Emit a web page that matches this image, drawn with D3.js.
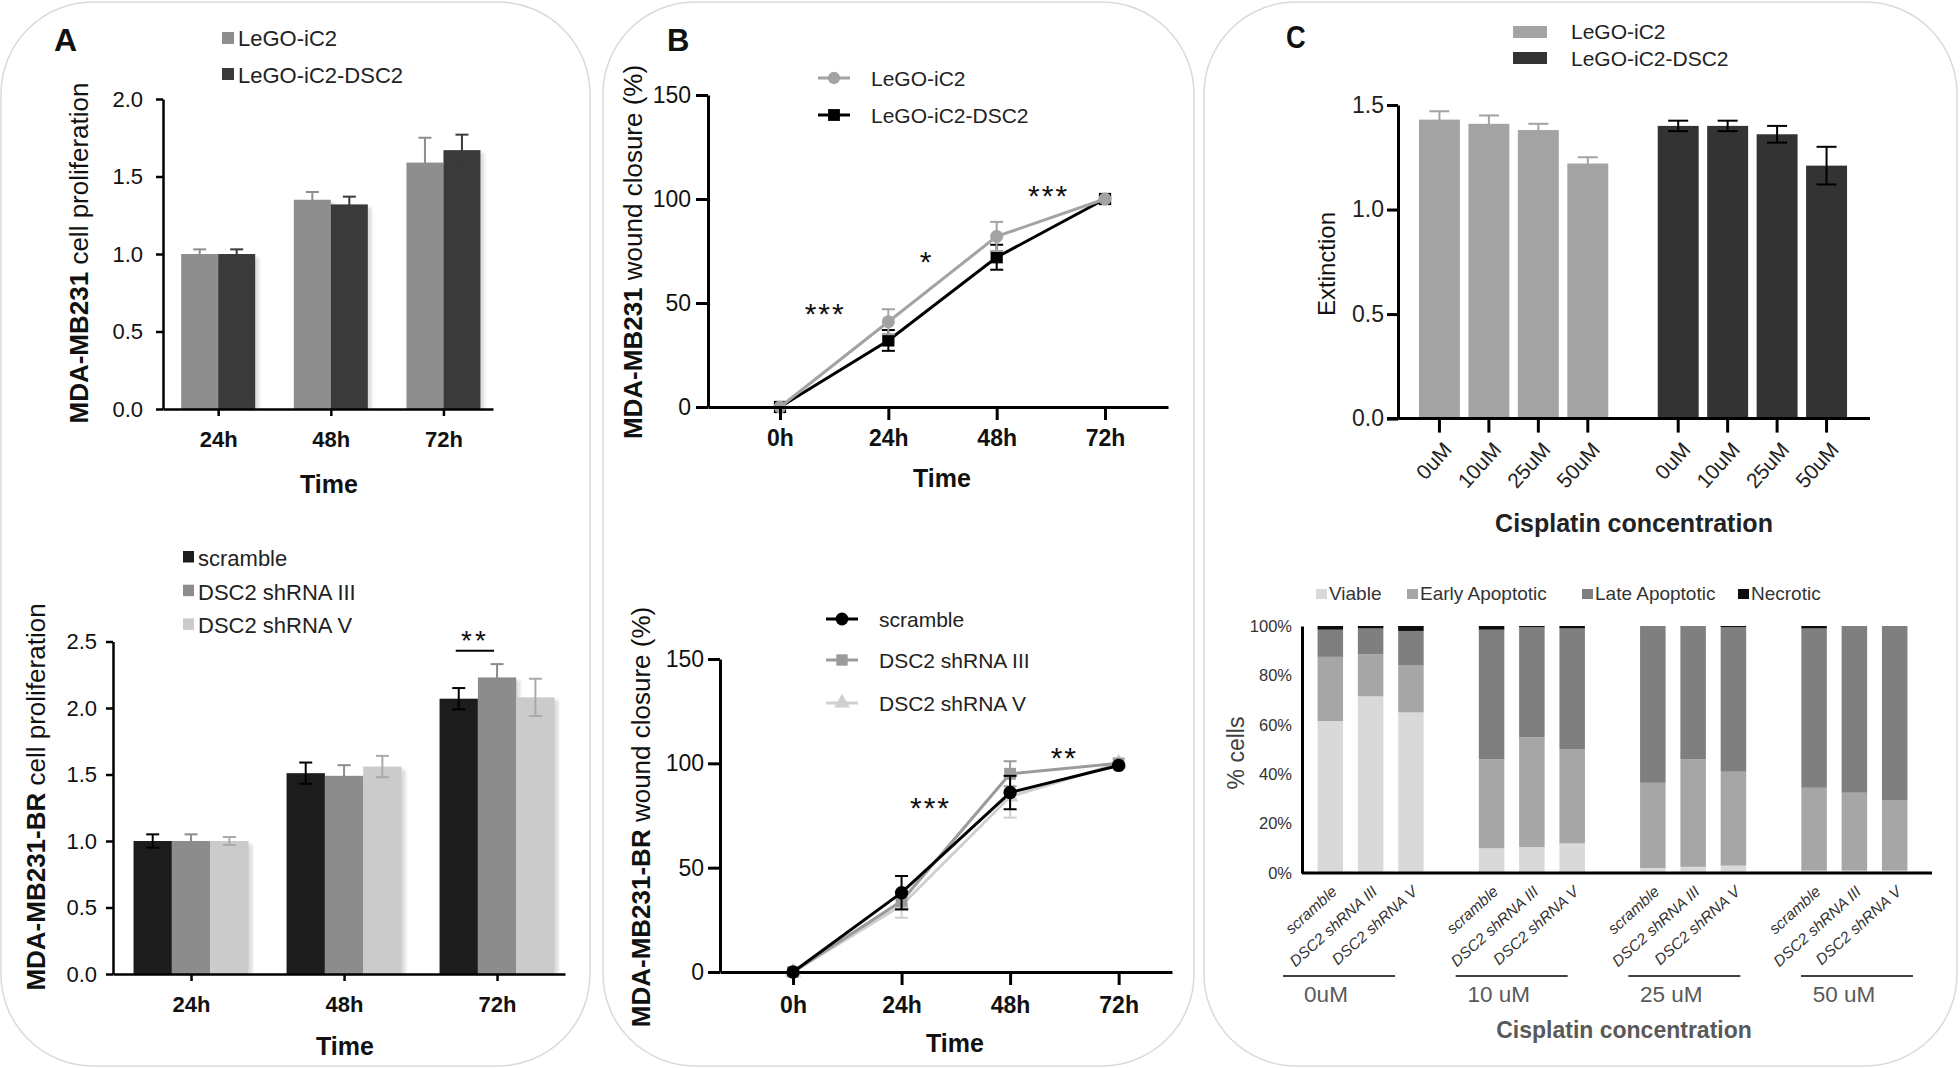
<!DOCTYPE html>
<html>
<head>
<meta charset="utf-8">
<script src="https://cdn.jsdelivr.net/npm/d3@7"></script>
<style>
  body { margin: 0; background: #fff; }
  svg { display: block; }
</style>
</head>
<body>
<svg width="1960" height="1068"></svg>
<script>
// ---- data ----
const timeA = ["24h", "48h", "72h"]
const seriesA1 = ["LeGO-iC2", "LeGO-iC2-DSC2"]
const prolifA1 = [[1.00, 1.35, 1.59], [1.00, 1.32, 1.67]]
const errA1 = [[0.03, 0.05, 0.16], [0.03, 0.05, 0.10]]

const seriesA2 = ["scramble", "DSC2 shRNA III", "DSC2 shRNA V"]
const prolifA2 = [[1.00, 1.51, 2.07], [1.00, 1.49, 2.23], [1.00, 1.56, 2.08]]
const errA2 = [[0.05, 0.08, 0.08], [0.05, 0.08, 0.10], [0.03, 0.08, 0.14]]

const hoursB = [0, 24, 48, 72]
const woundB1 = [[0, 41, 82, 100], [0, 32, 72, 100]]
const errB1 = [[0, 6, 7, 0], [0, 5, 6, 0]]
const woundB2 = [[0, 38, 86, 99], [0, 34, 95, 100], [0, 32, 84, 100]]
const errB2 = [[0, 8, 8, 0], [0, 4, 6, 0], [0, 6, 10, 0]]
// significance marks: [hour, value, text]
const starsB1 = [[10, 48, "***"], [32.5, 73, "*"], [59.5, 105, "***"]]
const starsB2 = [[30.4, 82, "***"], [60, 106, "**"]]

const concC1 = ["0uM", "10uM", "25uM", "50uM"]
const extinction = [[1.43, 1.41, 1.38, 1.22], [1.40, 1.40, 1.36, 1.21]]
const errC1 = [[0.04, 0.04, 0.03, 0.03], [0.025, 0.025, 0.04, 0.09]]

const concC2 = ["0uM", "10 uM", "25 uM", "50 uM"]
const stages = ["Viable", "Early Apoptotic", "Late Apoptotic", "Necrotic"]
// order: per concentration -> scramble, shRNA III, shRNA V
const viable = [61.5, 71.5, 65, 10, 10.5, 12, 2, 2.5, 3, 1, 1, 1]
const early = [26, 17, 19, 36, 44.5, 38, 34.5, 43.5, 38, 33.5, 31.5, 28.5]
const late = [11, 10.5, 14, 52.5, 44.5, 49, 63.5, 54, 58.5, 64.5, 67.5, 70.5]
const necrotic = [1.5, 1, 2, 1.5, 0.5, 1, 0, 0, 0.5, 1, 0, 0]

const SANS = "'Liberation Sans', Arial, sans-serif"

const svg = d3.select("svg")

const defs = svg.append("defs")
defs.append("filter").attr("id", "blur").append("feGaussianBlur").attr("stdDeviation", 1.8)

// panel frames
;[[1, 589], [603, 591], [1204, 753]].forEach(([x, w]) => {
  svg.append("rect").attr("x", x).attr("y", 2).attr("width", w).attr("height", 1064)
    .attr("rx", 92).attr("fill", "none").attr("stroke", "#dadada").attr("stroke-width", 1.5)
})

function label(x, y, str, o = {}) {
  const t = svg.append("text").text(str)
    .attr("text-anchor", o.anchor || "start")
    .style("font-family", SANS)
    .style("font-size", (o.size || 22) + "px")
    .style("font-weight", o.weight || "normal")
    .style("letter-spacing", (o.ls || 0) + "px")
    .attr("fill", o.fill || "#111")
  if (o.sq) t.attr("transform", `translate(${x},${y}) scale(${o.sq},1)`)
  else t.attr("x", x).attr("y", y)
  return t
}

function yTitle(cx, cy, parts, size, o = {}) {
  const t = svg.append("text").attr("transform", `translate(${cx},${cy}) rotate(-90)`)
    .attr("text-anchor", "middle").style("font-family", SANS)
    .style("font-size", size + "px").attr("fill", o.fill || "#111")
  parts.forEach(([s, w]) => t.append("tspan").text(s).style("font-weight", w))
}

function styleAxis(a, o) {
  a.attr("font-family", null).attr("font-size", null)
  a.select(".domain").attr("stroke", "#000").attr("stroke-width", o.sw)
  a.selectAll(".tick line").attr("stroke", "#000").attr("stroke-width", o.sw)
  a.selectAll(".tick text").attr("fill", o.fill || "#111")
    .style("font-family", SANS).style("font-size", o.size + "px")
    .style("font-weight", o.weight || "normal")
}

function errorBar(g, cx, y0, y1, half, color, sw) {
  g.append("line").attr("x1", cx).attr("x2", cx).attr("y1", y0).attr("y2", y1)
    .attr("stroke", color).attr("stroke-width", sw)
  ;[y0, y1].forEach(yy => g.append("line").attr("x1", cx - half).attr("x2", cx + half)
    .attr("y1", yy).attr("y2", yy).attr("stroke", color).attr("stroke-width", sw))
}

// grouped bars for panel A
function barsA(g, cats, series, vals, errs, x, xi, y, colors, errColors) {
  series.forEach((s, si) => {
    const data = cats.map((c, ci) => ({ ci, v: vals[si][ci], e: errs[si][ci] }))
    g.append("g").selectAll("rect").data(data).enter().append("rect")
      .attr("x", d => x(d.ci) + xi(s) + 4).attr("y", d => y(d.v) + 3)
      .attr("width", xi.bandwidth()).attr("height", d => y(0) - y(d.v) - 3)
      .attr("fill", "#000").attr("opacity", 0.13).attr("filter", "url(#blur)")
    g.append("g").selectAll("rect").data(data).enter().append("rect")
      .attr("x", d => x(d.ci) + xi(s)).attr("y", d => y(d.v))
      .attr("width", xi.bandwidth()).attr("height", d => y(0) - y(d.v))
      .attr("fill", colors[si])
    data.forEach(d => errorBar(g, x(d.ci) + xi(s) + xi.bandwidth() / 2, y(d.v - d.e), y(d.v + d.e), 6.5, errColors[si], 2))
  })
}

// ---------- Panel A top ----------
{
  const g = svg.append("g")
  const x = d3.scaleLinear().domain([-0.49, 2.44]).range([163, 493])
  const y = d3.scaleLinear().domain([0, 2]).range([409, 99])
  const xi = d3.scaleBand().domain(seriesA1).range([-37, 37])
  barsA(g, timeA, seriesA1, prolifA1, errA1, x, xi, y, ["#8e8e8e", "#3a3a3a"], ["#8e8e8e", "#3a3a3a"])
  const ax = g.append("g").attr("transform", `translate(0,${y(0)})`)
    .call(d3.axisBottom(x).tickValues([0, 1, 2]).tickFormat(i => timeA[i]).tickSize(7).tickPadding(15).tickSizeOuter(0))
  styleAxis(ax, { sw: 2.5, size: 22, weight: "bold" })
  const ay = g.append("g").attr("transform", `translate(${x.range()[0]},0)`)
    .call(d3.axisLeft(y).tickValues([0, 0.5, 1, 1.5, 2]).tickFormat(d3.format(".1f")).tickSize(7).tickPadding(13).tickSizeOuter(0))
  styleAxis(ay, { sw: 2.5, size: 22 })
  seriesA1.forEach((s, i) => {
    g.append("rect").attr("x", 222).attr("y", 32 + i * 36).attr("width", 12).attr("height", 12)
      .attr("fill", ["#8e8e8e", "#3a3a3a"][i])
    label(238, 46 + i * 37, s, { size: 22, fill: "#222" })
  })
  label(329, 493, "Time", { anchor: "middle", size: 25, weight: "bold" })
  yTitle(88, 253, [["MDA-MB231", "bold"], [" cell proliferation", "normal"]], 26)
  label(54, 51, "A", { size: 32, weight: "bold" })
}

// ---------- Panel A bottom ----------
{
  const g = svg.append("g")
  const x = d3.scaleLinear().domain([-0.51, 2.444]).range([113, 565])
  const y = d3.scaleLinear().domain([0, 2.5]).range([974, 641.5])
  const xi = d3.scaleBand().domain(seriesA2).range([-57.5, 57.5])
  const cols = ["#1c1c1c", "#8c8c8c", "#cbcbcb"]
  barsA(g, timeA, seriesA2, prolifA2, errA2, x, xi, y, cols, ["#000", "#8c8c8c", "#aaaaaa"])
  const ax = g.append("g").attr("transform", `translate(0,${y(0)})`)
    .call(d3.axisBottom(x).tickValues([0, 1, 2]).tickFormat(i => timeA[i]).tickSize(7).tickPadding(15).tickSizeOuter(0))
  styleAxis(ax, { sw: 2.5, size: 22, weight: "bold" })
  const ay = g.append("g").attr("transform", `translate(${x.range()[0]},0)`)
    .call(d3.axisLeft(y).tickValues([0, 0.5, 1, 1.5, 2, 2.5]).tickFormat(d3.format(".1f")).tickSize(7).tickPadding(9).tickSizeOuter(0))
  styleAxis(ay, { sw: 2.5, size: 22 })
  // significance bracket between scramble and shRNA III at 72h
  const bx0 = x(2) + xi(seriesA2[0]) + xi.bandwidth() / 2 - 3
  const bx1 = x(2) + xi(seriesA2[1]) + xi.bandwidth() / 2 - 3
  g.append("line").attr("x1", bx0).attr("x2", bx1).attr("y1", y(2.43)).attr("y2", y(2.43))
    .attr("stroke", "#000").attr("stroke-width", 2)
  label((bx0 + bx1) / 2, y(2.56) + 16, "**", { anchor: "middle", size: 28, ls: 3 })
  seriesA2.forEach((s, i) => {
    g.append("rect").attr("x", 183).attr("y", 551 + i * 33.7).attr("width", 11).attr("height", 11.5).attr("fill", cols[i])
    label(198, 566 + i * 33.5, s, { size: 22, fill: "#222" })
  })
  label(345, 1055, "Time", { anchor: "middle", size: 25, weight: "bold" })
  yTitle(45, 797, [["MDA-MB231-BR", "bold"], [" cell proliferation", "normal"]], 26)
}

// line series for panel B
function lineSeries(g, x, y, vals, errs, color, shape, size) {
  const data = hoursB.map((h, i) => ({ h, v: vals[i], e: errs[i] }))
  g.append("path").datum(data).attr("fill", "none").attr("stroke", color).attr("stroke-width", 3)
    .attr("d", d3.line().x(d => x(d.h)).y(d => y(d.v)))
  data.filter(d => d.e > 0).forEach(d => errorBar(g, x(d.h), y(d.v - d.e), y(d.v + d.e), 6.5, color, 2))
  g.append("g").selectAll("path").data(data).enter().append("path")
    .attr("d", d3.symbol().type(shape).size(size))
    .attr("transform", d => `translate(${x(d.h)},${y(d.v)})`).attr("fill", color)
}

function legendLine(g, x, yy, color, shape, size, text) {
  g.append("line").attr("x1", x).attr("x2", x + 32).attr("y1", yy).attr("y2", yy)
    .attr("stroke", color).attr("stroke-width", 3)
  g.append("path").attr("d", d3.symbol().type(shape).size(size))
    .attr("transform", `translate(${x + 16},${yy})`).attr("fill", color)
  label(x + 53, yy + 8, text, { size: 21, fill: "#222" })
}

// ---------- Panel B top ----------
{
  const g = svg.append("g")
  const x = d3.scaleLinear().domain([-15.95, 85.95]).range([708, 1168])
  const y = d3.scaleLinear().domain([0, 150]).range([407, 95])
  lineSeries(g, x, y, woundB1[1], errB1[1], "#000", d3.symbolSquare, 150)
  lineSeries(g, x, y, woundB1[0], errB1[0], "#a3a3a3", d3.symbolCircle, 133)
  const ax = g.append("g").attr("transform", `translate(0,${y(0)})`)
    .call(d3.axisBottom(x).tickValues(hoursB).tickFormat(h => h + "h").tickSize(13).tickPadding(10).tickSizeOuter(0))
  styleAxis(ax, { sw: 3, size: 23, weight: "bold" })
  const ay = g.append("g").attr("transform", `translate(${x.range()[0]},0)`)
    .call(d3.axisLeft(y).tickValues([0, 50, 100, 150]).tickSize(12).tickPadding(5).tickSizeOuter(0))
  styleAxis(ay, { sw: 3, size: 23 })
  starsB1.forEach(([h, v, s]) => label(x(h), y(v) + 17, s, { anchor: "middle", size: 30, ls: 2 }))
  legendLine(g, 818, 78, "#a3a3a3", d3.symbolCircle, 120, "LeGO-iC2")
  legendLine(g, 818, 115, "#000", d3.symbolSquare, 140, "LeGO-iC2-DSC2")
  label(942, 487, "Time", { anchor: "middle", size: 25, weight: "bold" })
  yTitle(642, 252, [["MDA-MB231", "bold"], [" wound closure (%)", "normal"]], 26)
  label(667, 51, "B", { size: 31, weight: "bold" })
}

// ---------- Panel B bottom ----------
{
  const g = svg.append("g")
  const x = d3.scaleLinear().domain([-16.15, 83.8]).range([720, 1172])
  const y = d3.scaleLinear().domain([0, 150]).range([972, 659])
  const cols = ["#000", "#9b9b9b", "#d0d0d0"]
  const shapes = [d3.symbolCircle, d3.symbolSquare, d3.symbolTriangle]
  const sizes = [140, 140, 120]
  ;[2, 1, 0].forEach(i => lineSeries(g, x, y, woundB2[i], errB2[i], cols[i], shapes[i], sizes[i]))
  const ax = g.append("g").attr("transform", `translate(0,${y(0)})`)
    .call(d3.axisBottom(x).tickValues(hoursB).tickFormat(h => h + "h").tickSize(13).tickPadding(12).tickSizeOuter(0))
  styleAxis(ax, { sw: 3, size: 23, weight: "bold" })
  const ay = g.append("g").attr("transform", `translate(${x.range()[0]},0)`)
    .call(d3.axisLeft(y).tickValues([0, 50, 100, 150]).tickSize(12).tickPadding(4).tickSizeOuter(0))
  styleAxis(ay, { sw: 3, size: 23 })
  starsB2.forEach(([h, v, s]) => label(x(h), y(v) + 17, s, { anchor: "middle", size: 30, ls: 2 }))
  seriesA2.forEach((s, i) => legendLine(g, 826, [619, 660, 703][i], cols[i], shapes[i], sizes[i] - 10, s))
  label(955, 1052, "Time", { anchor: "middle", size: 25, weight: "bold" })
  yTitle(650, 817, [["MDA-MB231-BR", "bold"], [" wound closure (%)", "normal"]], 26)
}

// ---------- Panel C top ----------
{
  const g = svg.append("g")
  const x0 = d3.scaleBand().domain(seriesA1).range([1398, 1868]).paddingInner(0.1715).paddingOuter(0.07)
  const x1 = d3.scaleBand().domain(concC1).range([0, x0.bandwidth()]).paddingInner(0.172).paddingOuter(0.086)
  const y = d3.scaleLinear().domain([0, 1.5]).range([418.6, 105])
  const cols = ["#a3a3a3", "#333333"]
  const errCols = ["#a3a3a3", "#000"]
  seriesA1.forEach((s, si) => {
    const data = concC1.map((c, ci) => ({ c, v: extinction[si][ci], e: errC1[si][ci] }))
    g.append("g").selectAll("rect").data(data).enter().append("rect")
      .attr("x", d => x0(s) + x1(d.c)).attr("y", d => y(d.v))
      .attr("width", x1.bandwidth()).attr("height", d => y(0) - y(d.v)).attr("fill", cols[si])
    data.forEach(d => errorBar(g, x0(s) + x1(d.c) + x1.bandwidth() / 2, y(d.v - d.e), y(d.v + d.e), 10, errCols[si], 2))
    const ax = g.append("g").attr("transform", `translate(${x0(s)},${y(0)})`)
      .call(d3.axisBottom(x1).tickSize(14).tickSizeOuter(0))
    styleAxis(ax, { sw: 3, size: 21, fill: "#222" })
    ax.select(".domain").remove()
    ax.selectAll(".tick text").attr("y", 0).attr("dy", "0.35em").attr("text-anchor", "end")
      .attr("transform", "translate(8,27) rotate(-48)")
  })
  g.append("line").attr("x1", 1387).attr("x2", 1870).attr("y1", y(0)).attr("y2", y(0))
    .attr("stroke", "#000").attr("stroke-width", 3)
  const ay = g.append("g").attr("transform", "translate(1398,0)")
    .call(d3.axisLeft(y).tickValues([0, 0.5, 1, 1.5]).tickFormat(d3.format(".1f")).tickSize(11).tickPadding(3).tickSizeOuter(0))
  styleAxis(ay, { sw: 3, size: 23, fill: "#222" })
  seriesA1.forEach((s, i) => {
    g.append("rect").attr("x", 1513).attr("y", 26 + i * 26).attr("width", 34).attr("height", 12).attr("fill", cols[i])
    label(1571, 39 + i * 27, s, { size: 21, fill: "#222" })
  })
  label(1634, 532, "Cisplatin concentration", { anchor: "middle", size: 25, weight: "bold", fill: "#222" })
  yTitle(1335, 264, [["Extinction", "normal"]], 24)
  label(1286, 48, "C", { size: 31, weight: "bold", sq: 0.88 })
}

// ---------- Panel C bottom ----------
{
  const g = svg.append("g")
  const x0 = d3.scaleBand().domain(concC2).range([1302, 1923]).paddingInner(0.252).paddingOuter(0.0515)
  const x1 = d3.scaleBand().domain(seriesA2).range([0, x0.bandwidth()]).paddingInner(0.367).paddingOuter(0.18)
  const y = d3.scaleLinear().domain([0, 100]).range([873, 626])
  const cols = ["#d9d9d9", "#a6a6a6", "#7f7f7f", "#0d0d0d"]
  const stageVals = [viable, early, late, necrotic]
  const rows = []
  concC2.forEach((c, gi) => seriesA2.forEach((s, li) => {
    const r = { conc: c, line: s }
    stages.forEach((st, k) => { r[st] = stageVals[k][gi * 3 + li] })
    rows.push(r)
  }))
  const stacked = d3.stack().keys(stages)(rows)
  stacked.forEach((layer, k) => {
    g.append("g").selectAll("rect").data(layer).enter().append("rect")
      .attr("x", d => x0(d.data.conc) + x1(d.data.line)).attr("width", x1.bandwidth())
      .attr("y", d => y(d[1])).attr("height", d => y(d[0]) - y(d[1])).attr("fill", cols[k])
  })
  concC2.forEach(c => {
    const ax = g.append("g").attr("transform", `translate(${x0(c)},${y(0)})`)
      .call(d3.axisBottom(x1).tickSize(0).tickSizeOuter(0))
    styleAxis(ax, { sw: 0, size: 15.5, fill: "#333" })
    ax.select(".domain").remove()
    ax.selectAll(".tick text").attr("y", 0).attr("dy", "0.35em").attr("text-anchor", "end")
      .style("font-style", "italic").attr("transform", "translate(4,16) rotate(-42)")
  })
  g.append("line").attr("x1", 1302).attr("x2", 1932).attr("y1", y(0)).attr("y2", y(0))
    .attr("stroke", "#000").attr("stroke-width", 3)
  const ay = g.append("g").attr("transform", "translate(1302,0)")
    .call(d3.axisLeft(y).tickValues(d3.range(0, 101, 20)).tickFormat(d => d + "%").tickSize(0).tickPadding(10).tickSizeOuter(0))
  styleAxis(ay, { sw: 3, size: 16.5, fill: "#333" })
  // concentration group labels under the bars
  const xg = d3.scalePoint().domain(concC2).range([1326, 1844])
  concC2.forEach(c => {
    g.append("line").attr("x1", xg(c) - 43).attr("x2", xg(c) + 69).attr("y1", 976).attr("y2", 976)
      .attr("stroke", "#404040").attr("stroke-width", 2)
    label(xg(c), 1002, c, { anchor: "middle", size: 22.5, fill: "#595959" })
  })
  const legX = [1316, 1407, 1582, 1738]
  stages.forEach((st, k) => {
    g.append("rect").attr("x", legX[k]).attr("y", 589).attr("width", 11).attr("height", 10).attr("fill", cols[k])
    label(legX[k] + 13, 600, st, { size: 19, fill: "#333" })
  })
  label(1624, 1038, "Cisplatin concentration", { anchor: "middle", size: 23, weight: "bold", fill: "#595959" })
  yTitle(1244, 753, [["% cells", "normal"]], 23, { fill: "#404040" })
}
</script>
</body>
</html>
